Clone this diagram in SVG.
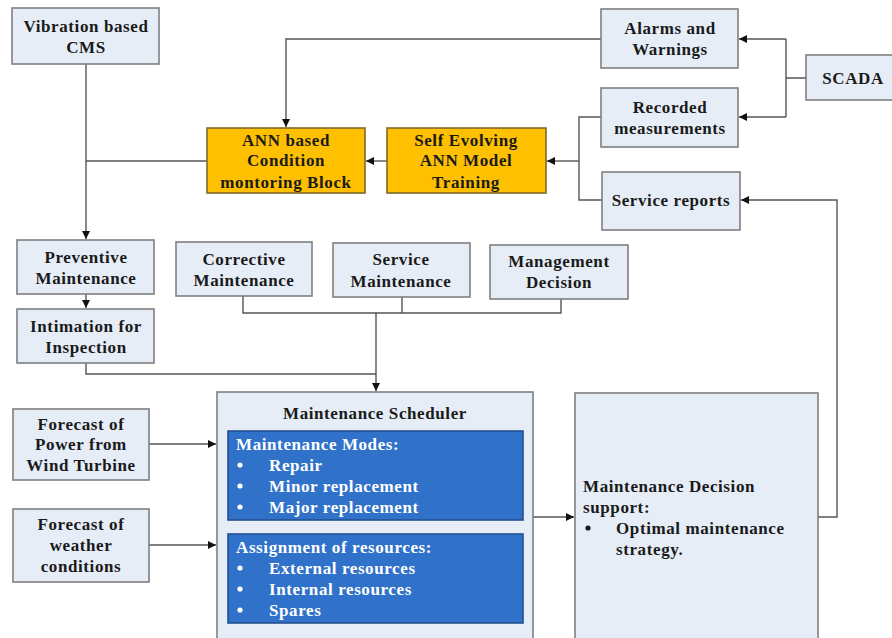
<svg xmlns="http://www.w3.org/2000/svg" width="892" height="638" viewBox="0 0 892 638">
<defs>
<style>
.box{fill:#E6EDF7;stroke:#7f7f7f;stroke-width:1.6}
.org{fill:#FFC000;stroke:#7f6a2a;stroke-width:1.6}
.blue{fill:#3071CA;stroke:#23508f;stroke-width:1.6}
.t{font-family:"Liberation Serif","Times New Roman",serif;font-weight:bold;font-size:17px;letter-spacing:0.6px;fill:#1a1a1a}
.c{text-anchor:middle}
.w{fill:#ffffff}
.ln{fill:none;stroke:#555;stroke-width:1.4}
</style>
<marker id="ah" viewBox="0 0 10 10" refX="10" refY="5" markerWidth="9" markerHeight="8" orient="auto" markerUnits="userSpaceOnUse"><path d="M0,0 L10,5 L0,10 z" fill="#111"/></marker>
</defs>
<rect width="892" height="638" fill="#ffffff"/>
<g id="connectors">
<path class="ln" d="M86,64 V239" marker-end="url(#ah)"/>
<path class="ln" d="M86,161 H207"/>
<path class="ln" d="M387,161 H366" marker-end="url(#ah)"/>
<path class="ln" d="M601,39 H286 V127" marker-end="url(#ah)"/>
<path class="ln" d="M806,78 H786 M786,39 V117"/>
<path class="ln" d="M786,39 H739" marker-end="url(#ah)"/>
<path class="ln" d="M786,117 H739" marker-end="url(#ah)"/>
<path class="ln" d="M601,117 H579 V200 H602"/>
<path class="ln" d="M579,161 H547" marker-end="url(#ah)"/>
<path class="ln" d="M86,294 V308" marker-end="url(#ah)"/>
<path class="ln" d="M243,296 V313 H561 V299 M402,297 V313"/>
<path class="ln" d="M376,313 V391" marker-end="url(#ah)"/>
<path class="ln" d="M86,363 V374 H376"/>
<path class="ln" d="M149,444 H216" marker-end="url(#ah)"/>
<path class="ln" d="M149,545 H216" marker-end="url(#ah)"/>
<path class="ln" d="M533,517 H574" marker-end="url(#ah)"/>
<path class="ln" d="M818,517 H837 V200 H741" marker-end="url(#ah)"/>
</g>
<g id="cms"><rect class="box" x="12" y="8" width="147" height="56"/>
<text class="t c" x="86" y="32">Vibration based</text><text class="t c" x="86" y="53">CMS</text></g>
<g id="ann"><rect class="org" x="207" y="128" width="158" height="65"/>
<text class="t c" x="286" y="146">ANN based</text><text class="t c" x="286" y="166">Condition</text><text class="t c" x="286" y="188">montoring Block</text></g>
<g id="selfevolving"><rect class="org" x="387" y="128" width="159" height="65"/>
<text class="t c" x="466" y="146">Self Evolving</text><text class="t c" x="466" y="166">ANN Model</text><text class="t c" x="466" y="188">Training</text></g>
<g id="alarms"><rect class="box" x="601" y="9" width="137" height="59"/>
<text class="t c" x="670" y="34">Alarms and</text><text class="t c" x="670" y="55">Warnings</text></g>
<g id="recorded"><rect class="box" x="601" y="88" width="137" height="59"/>
<text class="t c" x="670" y="113">Recorded</text><text class="t c" x="670" y="134">measurements</text></g>
<g id="servicereports"><rect class="box" x="602" y="172" width="138" height="58"/>
<text class="t c" x="671" y="206">Service reports</text></g>
<g id="scada"><rect class="box" x="806" y="55" width="95" height="45"/>
<text class="t c" x="853" y="84">SCADA</text></g>
<g id="preventive"><rect class="box" x="17" y="240" width="137" height="54"/>
<text class="t c" x="86" y="263">Preventive</text><text class="t c" x="86" y="284">Maintenance</text></g>
<g id="intimation"><rect class="box" x="17" y="309" width="137" height="54"/>
<text class="t c" x="86" y="332">Intimation for</text><text class="t c" x="86" y="353">Inspection</text></g>
<g id="corrective"><rect class="box" x="176" y="242" width="136" height="54"/>
<text class="t c" x="244" y="265">Corrective</text><text class="t c" x="244" y="286">Maintenance</text></g>
<g id="servicemaint"><rect class="box" x="333" y="243" width="137" height="54"/>
<text class="t c" x="401" y="265">Service</text><text class="t c" x="401" y="287">Maintenance</text></g>
<g id="management"><rect class="box" x="490" y="245" width="138" height="54"/>
<text class="t c" x="559" y="267">Management</text><text class="t c" x="559" y="288">Decision</text></g>
<g id="forecastpower"><rect class="box" x="13" y="409" width="136" height="71"/>
<text class="t c" x="81" y="430">Forecast of</text><text class="t c" x="81" y="450">Power from</text><text class="t c" x="81" y="471">Wind Turbine</text></g>
<g id="forecastweather"><rect class="box" x="13" y="509" width="136" height="73"/>
<text class="t c" x="81" y="530">Forecast of</text><text class="t c" x="81" y="551">weather</text><text class="t c" x="81" y="572">conditions</text></g>
<g id="scheduler"><rect class="box" x="217" y="392" width="316" height="260"/>
<text class="t c" x="375" y="419">Maintenance Scheduler</text>
<rect class="blue" x="228" y="431" width="295" height="89"/>
<text class="t w" x="236" y="450">Maintenance Modes:</text>
<circle cx="240" cy="465" r="2.6" fill="#fff"/><text class="t w" x="269" y="471">Repair</text>
<circle cx="240" cy="486" r="2.6" fill="#fff"/><text class="t w" x="269" y="492">Minor replacement</text>
<circle cx="240" cy="507" r="2.6" fill="#fff"/><text class="t w" x="269" y="513">Major replacement</text>
<rect class="blue" x="228" y="534" width="295" height="89"/>
<text class="t w" x="236" y="553">Assignment of resources:</text>
<circle cx="240" cy="568" r="2.6" fill="#fff"/><text class="t w" x="269" y="574">External resources</text>
<circle cx="240" cy="589" r="2.6" fill="#fff"/><text class="t w" x="269" y="595">Internal resources</text>
<circle cx="240" cy="610" r="2.6" fill="#fff"/><text class="t w" x="269" y="616">Spares</text>
</g>
<g id="decisionsupport"><rect class="box" x="575" y="393" width="243" height="260"/>
<text class="t" x="583" y="492">Maintenance Decision</text>
<text class="t" x="583" y="513">support:</text>
<circle cx="588" cy="528" r="2.6" fill="#1a1a1a"/><text class="t" x="616" y="534">Optimal maintenance</text>
<text class="t" x="616" y="555">strategy.</text>
</g>
</svg>
